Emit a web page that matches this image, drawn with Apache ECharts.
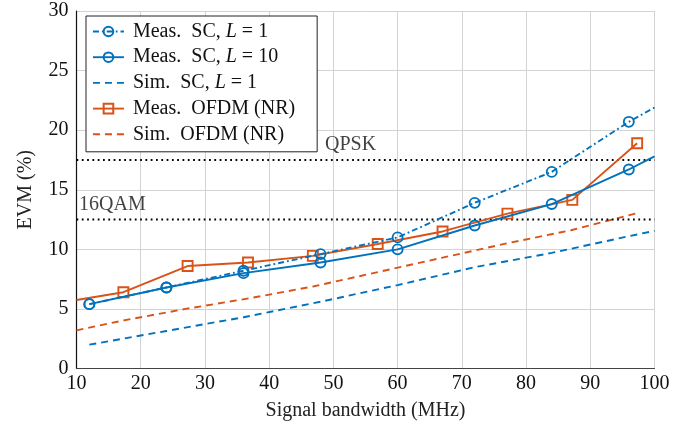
<!DOCTYPE html>
<html>
<head>
<meta charset="utf-8">
<script src="https://cdn.jsdelivr.net/npm/echarts@6/dist/echarts.min.js"></script>
<style>
  html, body { margin: 0; padding: 0; background: #fff; }
  #chart { width: 697px; height: 428px; }
</style>
</head>
<body>
<div id="chart"></div>
<script>
// bandwidths (MHz)
const bwSC = [12, 24, 36, 48, 60, 72, 84, 96, 100];
const bwOFDM = [10, 17.3, 27.3, 36.7, 46.8, 56.9, 67.0, 77.1, 87.2, 97.3];
const bwSimOFDM = [10, 17, 27, 37, 47, 57, 67, 77, 87, 97];

// EVM (%)
const measSC1 = [5.4, 6.8, 8.2, 9.6, 11.0, 13.9, 16.5, 20.7, 21.9];
const measSC10 = [5.4, 6.8, 8.0, 8.9, 10.0, 12.0, 13.8, 16.7, 17.8];
const simSC1 = [2.0, 3.15, 4.3, 5.6, 7.0, 8.5, 9.7, 11.1, 11.55];
const measOFDM = [5.75, 6.4, 8.6, 8.9, 9.45, 10.45, 11.5, 13.0, 14.15, 18.9];
const simOFDM = [3.2, 4.0, 5.0, 5.9, 6.9, 8.1, 9.3, 10.5, 11.6, 13.0];

// modulation thresholds
const thrNames = ["QPSK", "16QAM"];
const thrValues = [17.5, 12.5];
const thrLabelX = [48.7, 10.4];

const xTicks = [10, 100, 10]; // min, max, step
const yTicks = [0, 30, 5];

const BLUE = "#0072BD";
const ORANGE = "#D95319";
const FONT = "Liberation Serif";
const FS = 20;
const LW = 1.9;

// pair x/y arrays; points listed in noMark are drawn without a marker
function pts(xs, ys, noMark) {
  return xs.map((x, i) => {
    const p = { value: [x, ys[i]] };
    if (noMark && noMark.indexOf(i) >= 0) p.symbol = "none";
    return p;
  });
}

const chart = echarts.init(document.getElementById("chart"), null, { renderer: "canvas" });

const markerStyle = (c) => ({
  color: "rgba(255,255,255,0)",
  borderColor: c,
  borderWidth: LW,
});

const series = [
  {
    name: "sc1",
    type: "line",
    data: pts(bwSC, measSC1, [bwSC.length - 1]),
    symbol: "circle",
    symbolSize: 10,
    lineStyle: { color: BLUE, width: LW, type: [6, 3, 1.8, 3] },
    itemStyle: markerStyle(BLUE),
    z: 5,
  },
  {
    name: "sc10",
    type: "line",
    data: pts(bwSC, measSC10, [bwSC.length - 1]),
    symbol: "circle",
    symbolSize: 10,
    lineStyle: { color: BLUE, width: LW },
    itemStyle: markerStyle(BLUE),
    z: 5,
  },
  {
    name: "simsc",
    type: "line",
    data: pts(bwSC, simSC1),
    showSymbol: false,
    symbol: "none",
    lineStyle: { color: BLUE, width: LW, type: [7, 5] },
    itemStyle: { color: BLUE },
  },
  {
    name: "ofdm",
    type: "line",
    data: pts(bwOFDM, measOFDM, [0]),
    symbol: "rect",
    symbolSize: 10,
    lineStyle: { color: ORANGE, width: LW },
    itemStyle: markerStyle(ORANGE),
    z: 4,
  },
  {
    name: "simofdm",
    type: "line",
    data: pts(bwSimOFDM, simOFDM),
    showSymbol: false,
    symbol: "none",
    lineStyle: { color: ORANGE, width: LW, type: [7, 5] },
    itemStyle: { color: ORANGE },
  },
];

thrValues.forEach((v, i) => {
  series.push({
    name: thrNames[i],
    type: "line",
    data: [[xTicks[0], v], [xTicks[1], v]],
    symbol: "none",
    lineStyle: { color: "#000", width: 2, type: [1.8, 3.5] },
    z: 3,
  });
});

series.push({
  name: "thrLabels",
  type: "scatter",
  symbolSize: 0,
  data: thrNames.map((n, i) => ({ name: n, value: [thrLabelX[i], thrValues[i]] })),
  label: {
    show: true,
    formatter: "{b}",
    position: [0, -5],
    align: "left",
    verticalAlign: "bottom",
    fontFamily: FONT,
    fontSize: FS,
    color: "#111",
  },
  z: 6,
});

const legendNames = {
  sc1: "Meas.  SC, {i|L} = 1",
  sc10: "Meas.  SC, {i|L} = 10",
  simsc: "Sim.  SC, {i|L} = 1",
  ofdm: "Meas.  OFDM (NR)",
  simofdm: "Sim.  OFDM (NR)",
};

const noIcon = { opacity: 0 };

const option = {
  animation: false,
  backgroundColor: "#fff",
  grid: { left: 76.5, right: 42.5, top: 11, bottom: 59.5 },
  legend: {
    data: [
      { name: "sc1" },
      { name: "sc10" },
      { name: "simsc", itemStyle: noIcon },
      { name: "ofdm" },
      { name: "simofdm", itemStyle: noIcon },
    ],
    orient: "vertical",
    left: 86,
    top: 16,
    padding: [5, 22, 7, 6],
    itemWidth: 31,
    itemHeight: 12,
    itemGap: 4.7,
    backgroundColor: "#fff",
    borderColor: "#222",
    borderWidth: 1,
    borderRadius: 0,
    lineStyle: { width: LW },
    formatter: (n) => legendNames[n],
    textStyle: {
      fontFamily: FONT,
      fontSize: FS,
      color: "#111",
      lineHeight: 21,
      padding: [0, 0, 0, 4],
      rich: {
        i: { fontFamily: FONT, fontStyle: "italic", fontSize: FS, color: "#111" },
      },
    },
  },
  xAxis: {
    type: "value",
    min: xTicks[0],
    max: xTicks[1],
    interval: xTicks[2],
    name: "Signal bandwidth (MHz)",
    nameLocation: "middle",
    nameGap: 32,
    nameTextStyle: { fontFamily: FONT, fontSize: FS, color: "#222" },
    axisLine: { show: true, lineStyle: { color: "#444", width: 1.2 } },
    axisTick: { show: false },
    axisLabel: { fontFamily: FONT, fontSize: FS, color: "#111", margin: 5 },
    splitLine: { show: true, lineStyle: { color: "#d3d3d3", width: 1 } },
  },
  yAxis: {
    type: "value",
    min: yTicks[0],
    max: yTicks[1],
    interval: yTicks[2],
    name: "EVM (%)",
    nameLocation: "middle",
    nameGap: 41,
    nameTextStyle: { fontFamily: FONT, fontSize: FS, color: "#222" },
    axisLine: { show: true, lineStyle: { color: "#111", width: 1.2 } },
    axisTick: { show: false },
    axisLabel: { fontFamily: FONT, fontSize: FS, color: "#111", margin: 8 },
    splitLine: { show: true, lineStyle: { color: "#d3d3d3", width: 1 } },
  },
  series: series,
};

chart.setOption(option);
</script>
</body>
</html>
